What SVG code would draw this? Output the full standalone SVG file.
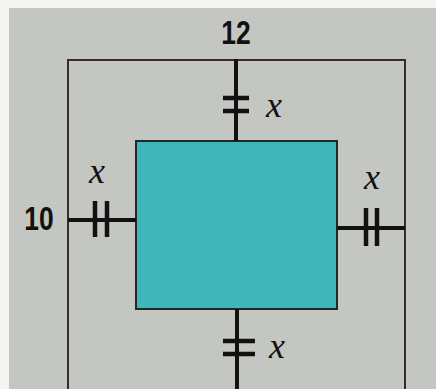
<svg xmlns="http://www.w3.org/2000/svg" width="436" height="389" viewBox="0 0 436 389">
<style>
.bg{fill:#c4c6c1}
.outer{fill:none;stroke:#3a2a2a;stroke-width:2}
.inner{fill:#3fb6b8;stroke:#1e2a2a;stroke-width:2}
.seg{stroke:#111;stroke-width:4;fill:none}
.tick{stroke:#111;stroke-width:4.5}
.num{font-family:"Liberation Sans",Arial,sans-serif;font-weight:bold;font-size:33px;fill:#111}
.var{font-family:"Liberation Serif","Times New Roman",serif;font-style:italic;font-size:36px;fill:#111}
</style>
<rect x="0" y="0" width="436" height="389" fill="#f4f4f2"/>
<rect class="bg" x="9" y="8" width="427" height="381"/>
<g id="outer-rect"><rect class="outer" x="68" y="60" width="337" height="330"/></g>
<g id="inner-rect"><rect class="inner" x="136" y="141" width="201" height="168"/></g>
<g id="connectors">
<line class="seg" x1="236" y1="59" x2="236" y2="141"/>
<line class="tick" x1="223" y1="98" x2="249" y2="98"/>
<line class="tick" x1="223" y1="111" x2="249" y2="111"/>
<line class="seg" x1="68" y1="220" x2="136" y2="220"/>
<line class="tick" x1="95" y1="201" x2="95" y2="237"/>
<line class="tick" x1="107" y1="201" x2="107" y2="237"/>
<line class="seg" x1="337" y1="228" x2="405" y2="228"/>
<line class="tick" x1="366" y1="208" x2="366" y2="246"/>
<line class="tick" x1="377" y1="208" x2="377" y2="246"/>
<line class="seg" x1="237" y1="309" x2="237" y2="389"/>
<line class="tick" x1="223" y1="341" x2="255" y2="341"/>
<line class="tick" x1="223" y1="354" x2="255" y2="354"/>
</g>
<g id="labels">
<text class="num" x="236" y="44" text-anchor="middle" transform="translate(236 0) scale(0.8 1) translate(-236 0)">12</text>
<text class="num" x="39" y="230" text-anchor="middle" transform="translate(39 0) scale(0.8 1) translate(-39 0)">10</text>
<text class="var" x="274" y="117" text-anchor="middle">x</text>
<text class="var" x="97" y="183" text-anchor="middle">x</text>
<text class="var" x="372" y="189" text-anchor="middle">x</text>
<text class="var" x="277" y="358" text-anchor="middle">x</text>
</g>
</svg>
